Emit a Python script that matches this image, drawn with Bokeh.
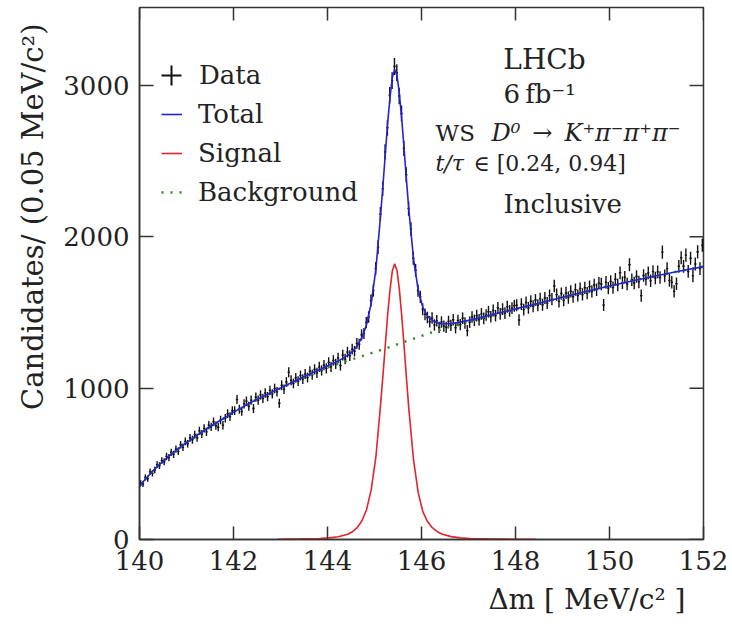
import numpy as np
from bokeh.plotting import figure
from bokeh.models import (Range1d, FixedTicker, Label, Legend, LegendItem, Title)
from bokeh.embed import file_html
from bokeh.resources import INLINE

# ---------------- data ----------------
bin_start = 140.0
bin_width = 0.05   # MeV/c^2
counts = [
    372, 366, 410, 402, 448, 437, 459, 495, 488, 521,
    514, 549, 541, 576, 563, 597, 582, 626, 609, 648,
    633, 671, 659, 693, 672, 718, 697, 734, 711, 756,
    744, 778, 752, 742, 790, 755, 801, 831, 812, 851,
    852, 925, 861, 846, 896, 914, 880, 921, 866, 940,
    921, 955, 932, 968, 944, 985, 962, 998, 976, 900,
    1019, 993, 1041, 1105, 1052, 1031, 1068, 1046, 1083, 1060,
    1094, 1070, 1112, 1088, 1124, 1101, 1140, 1117, 1152, 1131,
    1170, 1141, 1183, 1160, 1199, 1150, 1218, 1192, 1238, 1215,
    1258, 1244, 1296, 1290, 1352, 1361, 1433, 1470, 1579, 1645,
    1790, 1931, 2150, 2318, 2561, 2720, 2935, 3032, 3125, 3084,
    2930, 2815, 2584, 2410, 2186, 2051, 1858, 1779, 1645, 1603,
    1521, 1488, 1467, 1439, 1463, 1418, 1445, 1401, 1437, 1410,
    1402, 1441, 1415, 1452, 1399, 1447, 1420, 1462, 1431, 1380,
    1436, 1470, 1448, 1479, 1452, 1490, 1461, 1483, 1505, 1472,
    1513, 1479, 1530, 1491, 1522, 1496, 1538, 1510, 1529, 1544,
    1548, 1450, 1555, 1519, 1566, 1530, 1574, 1541, 1582, 1548,
    1590, 1551, 1596, 1562, 1611, 1588, 1675, 1618, 1573, 1625,
    1581, 1629, 1598, 1640, 1604, 1651, 1612, 1658, 1619, 1663,
    1628, 1671, 1639, 1682, 1650, 1694, 1688, 1549, 1700, 1661,
    1705, 1664, 1720, 1681, 1762, 1697, 1733, 1688, 1815, 1716,
    1695, 1738, 1702, 1611, 1744, 1720, 1761, 1709, 1770, 1728,
    1768, 1731, 1899, 1742, 1790, 1712, 1700, 1640, 1690, 1805,
    1862, 1805, 1879, 1771, 1858, 1742, 1820, 1901, 1790, 1945,
]

# background fit component
bkg_x = [140.0, 140.1, 140.2, 140.3, 140.4, 140.5, 140.75, 141.0, 141.25, 141.5,
         141.75, 142.0, 142.25, 142.5, 142.75, 143.0, 143.25, 143.5, 143.75, 144.0,
         144.25, 144.5, 144.75, 145.0, 145.25, 145.5, 145.75, 146.0, 146.25, 146.5,
         146.75, 147.0, 147.5, 148.0, 148.5, 149.0, 149.5, 150.0, 150.5, 151.0,
         151.5, 152.0]
bkg_y = [350, 390, 425, 458, 488, 516, 582, 640, 694, 745,
         793, 840, 885, 926, 963, 999, 1036, 1071, 1105, 1138,
         1164, 1188, 1213, 1238, 1264, 1291, 1318, 1345, 1371, 1395,
         1418, 1440, 1482, 1522, 1561, 1600, 1638, 1675, 1710, 1743,
         1774, 1803]

# signal fit component
sig_x = [142.93, 143.43, 143.83, 144.03, 144.23, 144.43, 144.53, 144.63, 144.73, 144.83,
         144.93, 145.03, 145.13, 145.18, 145.23, 145.28, 145.33, 145.38, 145.43, 145.48,
         145.53, 145.58, 145.63, 145.68, 145.73, 145.83, 145.93, 146.03, 146.13, 146.23,
         146.33, 146.43, 146.63, 146.83, 147.03, 147.43, 147.93, 148.43]
sig_y = [2, 4, 7, 11, 18, 35, 51, 78, 122, 197,
         328, 547, 893, 1084, 1285, 1485, 1649, 1776, 1822, 1776,
         1649, 1476, 1275, 1066, 865, 528, 310, 182, 117, 78,
         53, 36, 19, 11, 7, 4, 2, 1]

x_ticks = [140, 142, 144, 146, 148, 150, 152]
y_ticks = [0, 1000, 2000, 3000]
legend_labels = ["Data", "Total", "Signal", "Background"]

# ---------------- derived ----------------
n = np.array(counts, dtype=float)
centers = bin_start + bin_width * (np.arange(len(counts)) + 0.5)
err = np.sqrt(n)
grid = np.union1d(bkg_x, sig_x)
total = np.interp(grid, bkg_x, bkg_y) + np.interp(grid, sig_x, sig_y, left=0, right=0)

FONT = "DejaVu Serif"
BLUE = "#2323d6"
RED = "#e3242b"
GREEN = "#2a8a2a"
AX = "#333333"
TXT = "#222222"

X0, X1, Y0, Y1 = 140, 152, 0, 3515
FW, FH = 564, 532  # frame size in px (for tick lengths)

p = figure(width=732, height=631, output_backend="svg", toolbar_location=None,
           x_range=Range1d(X0, X1), y_range=Range1d(Y0, Y1),
           min_border_left=139, min_border_right=29, min_border_top=7, min_border_bottom=92)
p.grid.visible = False
p.outline_line_color = AX
p.outline_line_width = 1.5
p.background_fill_color = "white"
p.border_fill_color = "white"

p.xaxis.ticker = FixedTicker(ticks=x_ticks)
p.yaxis.ticker = FixedTicker(ticks=y_ticks)

def style_axis(ax, tick_len, standoff):
    ax.major_tick_in = tick_len
    ax.major_tick_out = 0
    ax.minor_tick_in = 0
    ax.minor_tick_out = 0
    ax.axis_line_color = AX
    ax.axis_line_width = 1.5
    ax.major_tick_line_color = AX
    ax.major_tick_line_width = 1.5
    ax.major_label_text_font = FONT
    ax.major_label_text_color = TXT
    ax.major_label_text_font_size = "26px"
    ax.major_label_standoff = standoff

style_axis(p.xaxis[0], 13, 11)
style_axis(p.yaxis[0], 14, 10)

# mirrored ticks on the top and right frame edges
xt_len = 13 * (Y1 - Y0) / FH
yt_len = 14 * (X1 - X0) / FW
xt = np.array(x_ticks, dtype=float)
yt = np.array(y_ticks, dtype=float)
p.segment(x0=xt, y0=Y1, x1=xt, y1=Y1 - xt_len, line_color=AX, line_width=1.5)
p.segment(x0=X1, y0=yt, x1=X1 - yt_len, y1=yt, line_color=AX, line_width=1.5)

# data points with error bars
p.segment(x0=centers, y0=n - err, x1=centers, y1=n + err, line_color="#111111", line_width=1.4)
p.segment(x0=centers - bin_width / 2, y0=n, x1=centers + bin_width / 2, y1=n,
          line_color="#111111", line_width=1.4)

# fit components
r_bkg = p.line(bkg_x, bkg_y, line_color=GREEN, line_width=2.5, line_dash="2 7")
r_sig = p.line(sig_x, sig_y, line_color=RED, line_width=1.6)
r_tot = p.line(grid, total, line_color=BLUE, line_width=1.6)
# legend proxy for data (zero-size markers at the data points)
r_dat = p.scatter(x=centers, y=n, marker="cross", size=0, line_color="#111111", line_width=2)

leg_common = dict(orientation="vertical", border_line_alpha=0, background_fill_alpha=0,
                  padding=0, margin=0, label_text_font=FONT, label_text_font_size="26px",
                  label_text_color=TXT)
legend_data = Legend(items=[LegendItem(label=legend_labels[0], renderers=[r_dat])],
                     location=(7, 439), glyph_width=50, glyph_height=50, label_height=50,
                     label_standoff=3, **leg_common)
legend_fit = Legend(items=[LegendItem(label=legend_labels[1], renderers=[r_tot]),
                           LegendItem(label=legend_labels[2], renderers=[r_sig]),
                           LegendItem(label=legend_labels[3], renderers=[r_bkg])],
                    location=(22, 332), spacing=9, glyph_width=21, glyph_height=30,
                    label_height=30, label_standoff=16, **leg_common)
p.add_layout(legend_data)
p.add_layout(legend_fit)

def lab(text, x, y, size, align="left", style="normal"):
    p.add_layout(Label(x=x, y=y, x_units="screen", y_units="screen", text=text,
                       text_font=FONT, text_font_size=size, text_font_style=style,
                       text_align=align, text_baseline="alphabetic", text_color=TXT))

# frame-relative screen coordinates (origin at frame bottom-left)
lab("LHCb", 405, 480, "28px", align="center")
lab("6\u2009fb\u207b\u00b9", 364, 446, "26px")
lab("WS", 296, 407, "23px")
lab("D\u2070\u2002\u2192\u2002K\u207a\u03c0\u207b\u03c0\u207a\u03c0\u207b", 352, 407, "24px",
    style="italic")
lab("t/\u03c4", 296, 376, "22px", style="italic")
lab("\u2208 [0.24, 0.94]", 334, 376, "22px")
lab("Inclusive", 364, 336, "26px")

# axis titles
p.add_layout(Title(text="\u0394m [ MeV/c\u00b2 ]", align="right", offset=18, standoff=16,
                   text_font=FONT, text_font_size="28px", text_font_style="normal",
                   text_color=TXT), "below")
p.add_layout(Title(text="Candidates/ (0.05 MeV/c\u00b2)", align="right", offset=16, standoff=22,
                   text_font=FONT, text_font_size="29px", text_font_style="normal",
                   text_color=TXT), "left")

open("out.html", "w").write(file_html(p, INLINE))
